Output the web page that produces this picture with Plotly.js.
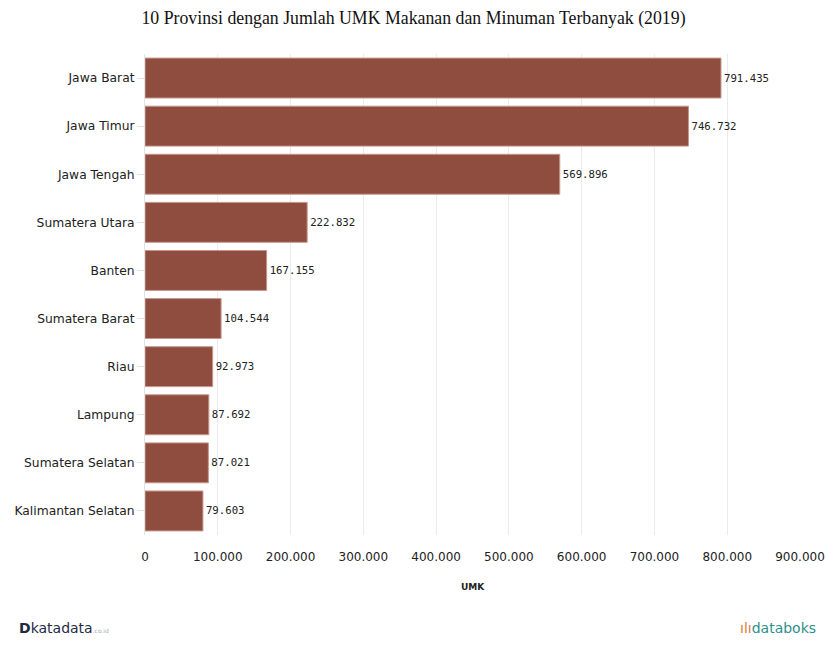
<!DOCTYPE html>
<html>
<head>
<meta charset="utf-8">
<script src="https://cdn.plot.ly/plotly-3.0.1.min.js"></script>
<style>html,body{margin:0;padding:0;background:#fff;}#chart{width:827px;height:646px;}</style>
</head>
<body>
<div id="chart"></div>
<script>
const provinces = ["Jawa Barat","Jawa Timur","Jawa Tengah","Sumatera Utara","Banten","Sumatera Barat","Riau","Lampung","Sumatera Selatan","Kalimantan Selatan"];
const umk = [791435, 746732, 569896, 222832, 167155, 104544, 92973, 87692, 87021, 79603];
const tickVals = [0,100000,200000,300000,400000,500000,600000,700000,800000,900000];
const tickText = ["0","100.000","200.000","300.000","400.000","500.000","600.000","700.000","800.000","900.000"];

function fmt(v){ return v.toString().replace(/\B(?=(\d{3})+(?!\d))/g, "."); }

const trace = {
  type: "bar",
  orientation: "h",
  y: provinces,
  x: umk,
  text: umk.map(fmt),
  textposition: "outside",
  cliponaxis: false,
  textfont: {family: "DejaVu Sans Mono", size: 10.7, color: "#222"},
  marker: {color: "#8f4d40", line: {color: "#c8968b", width: 1}},
  hoverinfo: "none"
};

const layout = {
  width: 827, height: 646,
  margin: {l: 145, r: 27, t: 54, b: 111},
  paper_bgcolor: "#fff", plot_bgcolor: "#fff",
  bargap: 0.17,
  showlegend: false,
  title: {text: "10 Provinsi dengan Jumlah UMK Makanan dan Minuman Terbanyak (2019)",
          font: {family: "Liberation Serif", size: 17.8, color: "#111"},
          x: 0.5, xanchor: "center", y: 0.972, yanchor: "middle"},
  xaxis: {
    range: [0, 900000],
    tickvals: tickVals, ticktext: tickText,
    showgrid: true, gridcolor: "#ebebeb", gridwidth: 1,
    zeroline: false, showline: false,
    ticks: "outside", ticklen: 11, tickcolor: "rgba(0,0,0,0)",
    tickfont: {family: "DejaVu Sans", size: 12, color: "#222"},
    title: {text: "<b>UMK</b>", font: {family: "DejaVu Sans", size: 9, color: "#222"}, standoff: 20}
  },
  yaxis: {
    autorange: "reversed",
    type: "category",
    showline: true, linecolor: "#e3e3e3", linewidth: 1,
    ticks: "outside", ticklen: 7, tickcolor: "#e0e0e0",
    showgrid: false, zeroline: false,
    tickfont: {family: "DejaVu Sans", size: 12.3, color: "#222"}
  },
  annotations: [
    {xref: "paper", yref: "paper", x: -0.195, y: -0.193, xanchor: "left", yanchor: "middle", showarrow: false,
     text: "<b>D</b>katadata<span style='font-size:6px;color:#aaa'>.co.id</span>", font: {family: "DejaVu Sans", size: 14, color: "#1f2a44"}},
    {xref: "paper", yref: "paper", x: 1.027, y: -0.193, xanchor: "right", yanchor: "middle", showarrow: false,
     text: "<span style='color:#e07a3c'>ılı</span>databoks", font: {family: "DejaVu Sans", size: 14, color: "#2e8f8a"}}
  ]
};

Plotly.newPlot("chart", [trace], layout, {staticPlot: true, displayModeBar: false});
</script>
</body>
</html>
